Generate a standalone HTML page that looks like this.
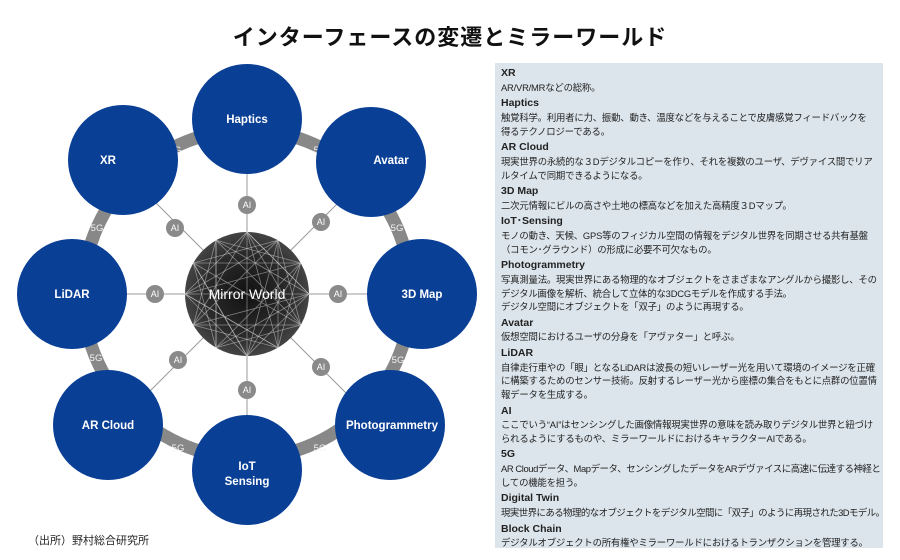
<!DOCTYPE html>
<html><head><meta charset="utf-8"><style>
body{margin:0;width:900px;height:560px;background:#fff;position:relative;overflow:hidden;font-family:"Liberation Sans","Noto Sans CJK JP",sans-serif}
.title{position:absolute;left:0;width:900px;top:20px;text-align:center;font-size:22px;font-weight:bold;color:#111;letter-spacing:1px}
.panel{position:absolute;left:495px;top:63px;width:380px;height:477px;background:#dce5ec;padding:4px 2px 4px 6px;font-size:9.4px;color:#222;letter-spacing:-0.2px;white-space:nowrap;overflow:hidden}
.panel .s{margin-bottom:2.8px;line-height:13.7px}
.panel b{display:block;font-size:10.5px;letter-spacing:0}
.src{position:absolute;left:28px;top:532px;font-size:11px;color:#222}
</style></head><body>
<div class="title">インターフェースの変遷とミラーワールド</div>
<svg width="900" height="560" style="position:absolute;left:0;top:0">
<defs><radialGradient id="g" cx="50%" cy="50%" r="50%"><stop offset="0" stop-color="#111"/><stop offset="0.7" stop-color="#2c2c2c"/><stop offset="1" stop-color="#444"/></radialGradient></defs>
<circle cx="247" cy="294" r="164" fill="none" stroke="#888" stroke-width="13"/>
<g stroke="#999" stroke-width="1">
<line x1="247" y1="294" x2="247" y2="119"/><line x1="247" y1="294" x2="247" y2="469"/>
<line x1="247" y1="294" x2="72" y2="294"/><line x1="247" y1="294" x2="422" y2="294"/>
<line x1="247" y1="294" x2="371" y2="170"/><line x1="247" y1="294" x2="123" y2="170"/>
<line x1="247" y1="294" x2="123" y2="418"/><line x1="247" y1="294" x2="371" y2="418"/>
</g>
<g fill="#f4f4f4" font-size="9.5" text-anchor="middle">
<text x="320" y="153">5G</text><text x="397" y="231">5G</text><text x="398" y="363">5G</text><text x="320" y="451">5G</text>
<text x="178" y="451">5G</text><text x="96" y="361">5G</text><text x="97" y="231">5G</text><text x="175" y="153">5G</text>
</g>
<g fill="#0a3f96"><circle cx="247" cy="119" r="55"/><circle cx="371" cy="162" r="55"/><circle cx="422" cy="294" r="55"/><circle cx="390" cy="425" r="55"/><circle cx="247" cy="470" r="55"/><circle cx="108" cy="425" r="55"/><circle cx="72" cy="294" r="55"/><circle cx="123" cy="160" r="55"/></g>
<g fill="#fff" font-size="11.5" font-weight="bold" text-anchor="middle">
<text x="247" y="123">Haptics</text><text x="391" y="164">Avatar</text><text x="422" y="298">3D Map</text><text x="392" y="429">Photogrammetry</text>
<text x="247" y="470">IoT</text><text x="247" y="485">Sensing</text><text x="108" y="429">AR Cloud</text><text x="72" y="298">LiDAR</text><text x="108" y="164">XR</text>
</g>
<circle cx="247" cy="294" r="62" fill="url(#g)"/>
<g stroke="#cfcfcf" stroke-opacity="0.55" stroke-width="0.8" fill="none">
<polygon points="309,294 193.3,325 278,240.3 247,356 193.3,263 300.7,325 216,240.3 216,347.7 300.7,263 185,294 278,347.7 247,232"/>
<polygon points="309,294 216,347.7 216,240.3"/><polygon points="300.7,325 193.3,325 247,232"/>
<polygon points="278,347.7 185,294 278,240.3"/><polygon points="247,356 193.3,263 300.7,263"/>
<polygon points="309,294 247,356 185,294 247,232"/><polygon points="300.7,325 216,347.7 193.3,263 278,240.3"/><polygon points="278,347.7 193.3,325 216,240.3 300.7,263"/>
<line x1="247" y1="232" x2="247" y2="356"/><line x1="185" y1="294" x2="309" y2="294"/>
</g>
<text x="247" y="299" fill="#fff" font-size="14" text-anchor="middle">Mirror World</text>
<g fill="#8a8a8a"><circle cx="247" cy="205" r="9"/><circle cx="338" cy="294" r="9"/><circle cx="155" cy="294" r="9"/><circle cx="247" cy="390" r="9"/><circle cx="321" cy="222" r="9"/><circle cx="175" cy="228" r="9"/><circle cx="178" cy="360" r="9"/><circle cx="321" cy="367" r="9"/></g>
<g fill="#fff" font-size="9" text-anchor="middle">
<text x="247" y="208">AI</text><text x="338" y="297">AI</text><text x="155" y="297">AI</text><text x="247" y="393">AI</text><text x="321" y="225">AI</text><text x="175" y="231">AI</text><text x="178" y="363">AI</text><text x="321" y="370">AI</text>
</g>
</svg>
<div class="panel">
<div class="s"><b>XR</b>AR/VR/MRなどの総称。</div>
<div class="s"><b>Haptics</b>触覚科学。利用者に力、振動、動き、温度などを与えることで皮膚感覚フィードバックを<br>得るテクノロジーである。</div>
<div class="s"><b>AR Cloud</b>現実世界の永続的な３Dデジタルコピーを作り、それを複数のユーザ、デヴァイス間でリア<br>ルタイムで同期できるようになる。</div>
<div class="s"><b>3D Map</b>二次元情報にビルの高さや土地の標高などを加えた高精度３Dマップ。</div>
<div class="s"><b>IoT･Sensing</b>モノの動き、天候、GPS等のフィジカル空間の情報をデジタル世界を同期させる共有基盤<br>（コモン･グラウンド）の形成に必要不可欠なもの。</div>
<div class="s"><b>Photogrammetry</b>写真測量法。現実世界にある物理的なオブジェクトをさまざまなアングルから撮影し、その<br>デジタル画像を解析、統合して立体的な3DCGモデルを作成する手法。<br>デジタル空間にオブジェクトを「双子」のように再現する。</div>
<div class="s"><b>Avatar</b>仮想空間におけるユーザの分身を「アヴァター」と呼ぶ。</div>
<div class="s"><b>LiDAR</b>自律走行車やの「眼」となるLiDARは波長の短いレーザー光を用いて環境のイメージを正確<br>に構築するためのセンサー技術。反射するレーザー光から座標の集合をもとに点群の位置情<br>報データを生成する。</div>
<div class="s"><b>AI</b>ここでいう“AI”はセンシングした画像情報現実世界の意味を読み取りデジタル世界と紐づけ<br>られるようにするものや、ミラーワールドにおけるキャラクターAIである。</div>
<div class="s"><b>5G</b><span style="letter-spacing:-0.4px">AR Cloudデータ、Mapデータ、センシングしたデータをARデヴァイスに高速に伝達する神経と</span><br>しての機能を担う。</div>
<div class="s"><b>Digital Twin</b><span style="letter-spacing:-0.5px">現実世界にある物理的なオブジェクトをデジタル空間に「双子」のように再現された3Dモデル。</span></div>
<div class="s"><b>Block Chain</b>デジタルオブジェクトの所有権やミラーワールドにおけるトランザクションを管理する。</div>
</div>
<div class="src">（出所）野村総合研究所</div>
</body></html>
